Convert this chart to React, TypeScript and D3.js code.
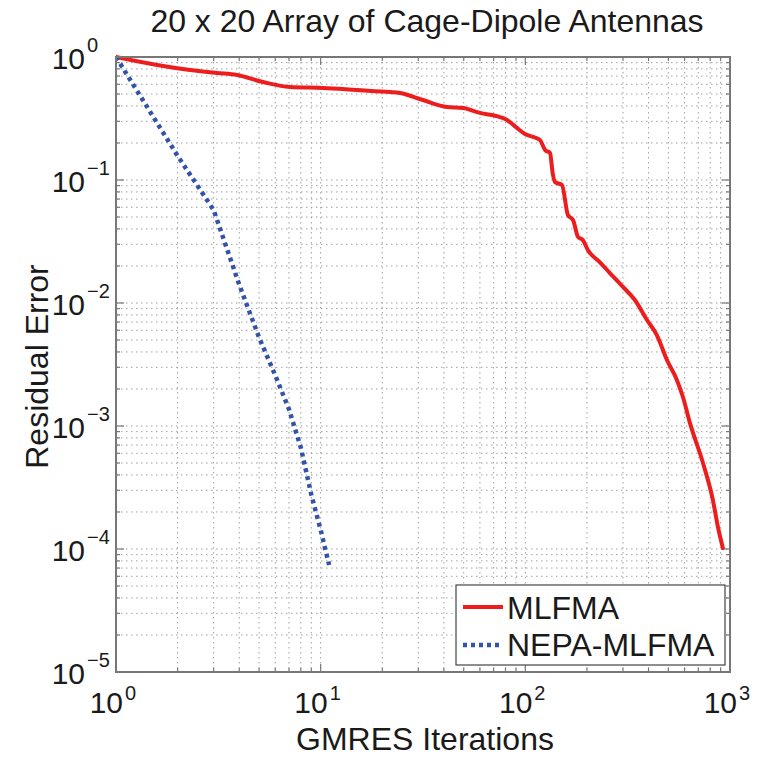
import React from "react";
import * as d3 from "d3";

const mlfmaIter = [1, 1.586, 2.3, 3.11, 3.9, 5.23, 7.08, 10.3, 15.0, 21.8, 24.4, 31.6, 41.4, 49.6, 60.0, 75.2, 81.3, 91.0, 99.6, 109, 118, 125, 132, 136, 139.5, 151, 161.5, 171, 181, 191, 202, 231, 259, 300, 343, 393, 439, 492, 550, 589, 637, 738, 825, 873, 923];
const mlfmaResidual = [1, 0.861, 0.784, 0.741, 0.714, 0.626, 0.57, 0.56, 0.539, 0.519, 0.51, 0.447, 0.392, 0.385, 0.351, 0.325, 0.308, 0.265, 0.237, 0.224, 0.211, 0.175, 0.166, 0.114, 0.0963, 0.091, 0.0519, 0.0473, 0.0344, 0.0325, 0.027, 0.0215, 0.0175, 0.0135, 0.01057, 0.00727, 0.00549, 0.00344, 0.00237, 0.00172, 0.00106, 0.0005, 0.00025, 0.000151, 0.000102];

const nepaIter = [1, 2, 3, 4, 5, 6, 7, 8, 9, 10, 11];
const nepaResidual = [1, 0.157, 0.057, 0.0141, 0.00525, 0.00258, 0.00137, 0.000667, 0.000277, 0.000143, 0.000074];

const xMajorExp = [0, 1, 2, 3];
const yMajorExp = [0, -1, -2, -3, -4, -5];
const seriesNames = ["MLFMA", "NEPA-MLFMA"];
const titleText = "20 x 20 Array of Cage-Dipole Antennas";
const xLabelText = "GMRES Iterations";
const yLabelText = "Residual Error";

const W = 757, H = 758;
const L = 116, R = 730, T = 57, B = 672;
const FONT = "'Liberation Sans', Arial, Helvetica, sans-serif";
const RED = "#ee1d1d";
const BLUE = "#3353a8";
const AXIS = "#777";

export default function App() {
  const x = d3.scaleLog().domain([1, 1000]).range([L, R]);
  const y = d3.scaleLog().domain([1e-5, 1]).range([B, T]);

  const xMinor: number[] = [];
  for (let e = 0; e < 3; e++) for (let k = 2; k <= 9; k++) xMinor.push(k * Math.pow(10, e));
  const yMinor: number[] = [];
  for (let e = -5; e < 0; e++) for (let k = 2; k <= 9; k++) yMinor.push(k * Math.pow(10, e));
  const xMajor = xMajorExp.map((e) => Math.pow(10, e));
  const yMajor = yMajorExp.map((e) => Math.pow(10, e));

  const smoothLine = d3.line<[number, number]>().x((d) => x(d[0])).y((d) => y(d[1])).curve(d3.curveMonotoneX);
  const straightLine = d3.line<[number, number]>().x((d) => x(d[0])).y((d) => y(d[1]));
  const mlfma = mlfmaIter.map((v, i) => [v, mlfmaResidual[i]] as [number, number]);
  const nepa = nepaIter.map((v, i) => [v, nepaResidual[i]] as [number, number]);

  const gridStyle = { stroke: "#a0a0a0", strokeWidth: 1, strokeDasharray: "1.5 3.5" };
  const fmtExp = (e: number) => (e < 0 ? "\u2212" + Math.abs(e) : String(e));

  return (
    <svg width={W} height={H} style={{ position: "absolute", left: 0, top: 0, background: "#fff" }} fontFamily={FONT}>
      <rect x={0} y={0} width={W} height={H} fill="#fff" />
      <defs>
        <clipPath id="plotclip">
          <rect x={L} y={T - 3} width={R - L} height={B - T + 3} />
        </clipPath>
      </defs>
      {/* grid */}
      <g>
        {[...xMajor.slice(1, -1), ...xMinor].map((v, i) => (
          <line key={"gx" + i} x1={x(v)} x2={x(v)} y1={T} y2={B} {...gridStyle} />
        ))}
        {[...yMajor.slice(1, -1), ...yMinor].map((v, i) => (
          <line key={"gy" + i} x1={L} x2={R} y1={y(v)} y2={y(v)} {...gridStyle} />
        ))}
      </g>
      {/* ticks */}
      <g stroke={AXIS} strokeWidth={1.2}>
        {xMajor.map((v, i) => (
          <g key={"tx" + i}>
            <line x1={x(v)} x2={x(v)} y1={B} y2={B - 8} />
            <line x1={x(v)} x2={x(v)} y1={T} y2={T + 8} />
          </g>
        ))}
        {xMinor.map((v, i) => (
          <g key={"tmx" + i}>
            <line x1={x(v)} x2={x(v)} y1={B} y2={B - 4} />
            <line x1={x(v)} x2={x(v)} y1={T} y2={T + 4} />
          </g>
        ))}
        {yMajor.map((v, i) => (
          <g key={"ty" + i}>
            <line x1={L} x2={L + 8} y1={y(v)} y2={y(v)} />
            <line x1={R} x2={R - 8} y1={y(v)} y2={y(v)} />
          </g>
        ))}
        {yMinor.map((v, i) => (
          <g key={"tmy" + i}>
            <line x1={L} x2={L + 4} y1={y(v)} y2={y(v)} />
            <line x1={R} x2={R - 4} y1={y(v)} y2={y(v)} />
          </g>
        ))}
      </g>
      {/* series */}
      <g clipPath="url(#plotclip)">
        <path d={smoothLine(mlfma) || ""} fill="none" stroke={RED} strokeWidth={4} strokeLinejoin="round" strokeLinecap="round" />
        <path d={straightLine(nepa) || ""} fill="none" stroke={BLUE} strokeWidth={4.5} strokeDasharray="4 4" />
      </g>
      {/* axes box */}
      <rect x={L} y={T} width={R - L} height={B - T} fill="none" stroke={AXIS} strokeWidth={2} />
      {/* tick labels */}
      <g fill="#1a1a1a">
        {xMajorExp.map((e, i) => (
          <g key={"xl" + i}>
            <text x={x(Math.pow(10, e)) + 7} y={713} fontSize={30} textAnchor="end">10</text>
            <text x={x(Math.pow(10, e)) + 9} y={700} fontSize={20}>{fmtExp(e)}</text>
          </g>
        ))}
        {yMajorExp.map((e, i) => (
          <g key={"yl" + i}>
            <text x={85} y={y(Math.pow(10, e)) + 12} fontSize={30} textAnchor="end">10</text>
            <text x={87} y={y(Math.pow(10, e)) - 5} fontSize={20}>{fmtExp(e)}</text>
          </g>
        ))}
        <text x={(L + R) / 2 + 4} y={32} fontSize={32} textAnchor="middle">{titleText}</text>
        <text x={(L + R) / 2 + 2} y={750} fontSize={32} textAnchor="middle">{xLabelText}</text>
        <text transform={`translate(48,${(T + B) / 2 + 2}) rotate(-90)`} fontSize={32} textAnchor="middle">{yLabelText}</text>
      </g>
      {/* legend */}
      <g>
        <rect x={456} y={585} width={269} height={80} fill="#fff" stroke="#444" strokeWidth={1.2} />
        <line x1={463} x2={503} y1={607} y2={607} stroke={RED} strokeWidth={4} />
        <line x1={463} x2={503} y1={645} y2={645} stroke={BLUE} strokeWidth={4.5} strokeDasharray="4 4" />
        <text x={507} y={619} fontSize={32} fill="#1a1a1a">{seriesNames[0]}</text>
        <text x={507} y={656} fontSize={32} fill="#1a1a1a">{seriesNames[1]}</text>
      </g>
    </svg>
  );
}
